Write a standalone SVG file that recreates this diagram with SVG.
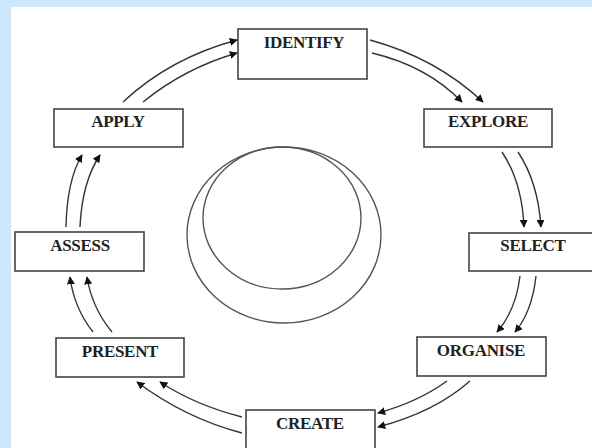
<svg xmlns="http://www.w3.org/2000/svg" width="592" height="448" viewBox="0 0 592 448">
<defs>
<marker id="ah" viewBox="0 0 10 10" refX="9" refY="5" markerWidth="8" markerHeight="8" markerUnits="userSpaceOnUse" orient="auto">
<path d="M0,0 L10,5 L0,10 z" fill="#111"/>
</marker>
<style>
.box{fill:#fff;stroke:#444;stroke-width:1.6}
.lbl{font-family:"Liberation Serif","Times New Roman",serif;font-weight:bold;font-size:17px;fill:#222;text-anchor:middle;letter-spacing:-0.3px}
.c{fill:none;stroke:#333;stroke-width:1.4;marker-end:url(#ah)}
.ring{fill:none;stroke:#555;stroke-width:1.4}
</style>
</defs>
<rect x="0" y="0" width="592" height="448" fill="#cde8fb"/>
<rect x="11" y="7" width="581" height="441" fill="#fff"/>
<g id="center">
<ellipse class="ring" cx="284" cy="235" rx="97" ry="88"/>
<ellipse class="ring" cx="282" cy="218" rx="79" ry="71"/>
</g>
<g id="connectors">
<path class="c" d="M370,40 Q436,58 483,102"/>
<path class="c" d="M372,53 Q427,66 462,102"/>
<path class="c" d="M518,152 Q538,182 541,227"/>
<path class="c" d="M502,152 Q522,182 524,227"/>
<path class="c" d="M536,276 Q532,312 515,332"/>
<path class="c" d="M520,276 Q516,310 497,332"/>
<path class="c" d="M470,381 Q435,412 378,427"/>
<path class="c" d="M447,381 Q418,402 378,413"/>
<path class="c" d="M242,433 Q185,418 137,382"/>
<path class="c" d="M242,417 Q195,405 160,382"/>
<path class="c" d="M93,332 Q74,308 70,277"/>
<path class="c" d="M112,332 Q92,308 87,277"/>
<path class="c" d="M66,227 Q67,180 82,155"/>
<path class="c" d="M80,227 Q82,182 100,155"/>
<path class="c" d="M123,102 Q170,58 237,40"/>
<path class="c" d="M143,102 Q185,68 237,53"/>
</g>
<g id="identify"><rect class="box" x="238" y="29" width="129" height="50"/><text class="lbl" x="304" y="48">IDENTIFY</text></g>
<g id="explore"><rect class="box" x="424" y="109" width="128" height="38"/><text class="lbl" x="488" y="127">EXPLORE</text></g>
<g id="select"><rect class="box" x="469" y="233" width="130" height="38"/><text class="lbl" x="533" y="251">SELECT</text></g>
<g id="organise"><rect class="box" x="417" y="337" width="129" height="39"/><text class="lbl" x="481" y="356">ORGANISE</text></g>
<g id="create"><rect class="box" x="246" y="410" width="129" height="42"/><text class="lbl" x="310" y="429">CREATE</text></g>
<g id="present"><rect class="box" x="56" y="338" width="128" height="39"/><text class="lbl" x="120" y="357">PRESENT</text></g>
<g id="assess"><rect class="box" x="15" y="232" width="129" height="39"/><text class="lbl" x="80" y="251">ASSESS</text></g>
<g id="apply"><rect class="box" x="54" y="109" width="129" height="38"/><text class="lbl" x="118" y="127">APPLY</text></g>
</svg>
